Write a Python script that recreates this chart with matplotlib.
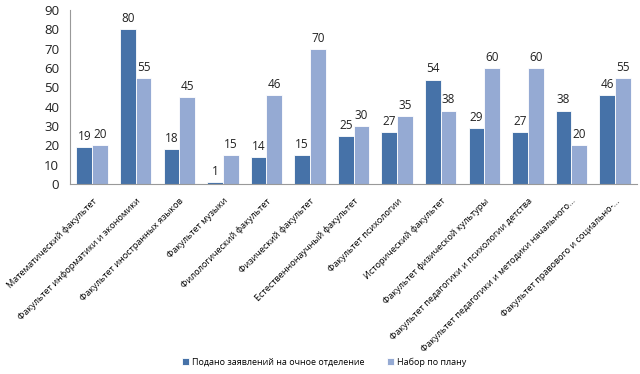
import matplotlib.pyplot as plt
import numpy as np

faculties = ['Математический факультет',
             'Факультет информатики и экономики',
             'Факультет иностранных языков',
             'Факультет музыки',
             'Филологический факультет',
             'Физический факультет',
             'Естественнонаучный факультет',
             'Факультет психологии',
             'Исторический факультет',
             'Факультет физической культуры',
             'Факультет педагогики и психологии детства',
             'Факультет педагогики и методики начального...',
             'Факультет правового и социально-...']
applied = [19, 80, 18, 1, 14, 15, 25, 27, 54, 29, 27, 38, 46]
plan = [20, 55, 45, 15, 46, 70, 30, 35, 38, 60, 60, 20, 55]
series_names = ['Подано заявлений на очное отделение', 'Набор по плану']

plt.rcParams['font.family'] = ['Open Sans', 'DejaVu Sans']

fig = plt.figure(figsize=(6.4, 3.74), dpi=100)
ax = fig.add_axes([0.11, 0.508, 0.885, 0.465])

x = np.arange(len(faculties))
w = 0.36
c1 = '#4672A8'
c2 = '#95AAD3'
b1 = ax.bar(x - w / 2, applied, w, color=c1, edgecolor='white', linewidth=0.6, label=series_names[0])
b2 = ax.bar(x + w / 2, plan, w, color=c2, edgecolor='white', linewidth=0.6, label=series_names[1])
for bars in (b1, b2):
    ax.bar_label(bars, padding=3, fontsize=8.5, color='#222222')

ax.set_xlim(-0.5, len(faculties) - 0.5)
ax.set_ylim(0, 90)
ax.set_yticks(range(0, 91, 10))
ax.tick_params(axis='y', labelsize=9.5, length=0, colors='#222222', pad=8)
ax.set_xticks(x)
ax.set_xticklabels(faculties, rotation=45, ha='right', rotation_mode='anchor', fontsize=6.6)
ax.tick_params(axis='x', length=0, pad=9)
for s in ['top', 'right']:
    ax.spines[s].set_visible(False)
ax.spines['left'].set_color('#999999')
ax.spines['bottom'].set_color('#999999')

fig.legend(handles=[b1, b2], loc='center', bbox_to_anchor=(0.507, 0.032), ncol=2,
           frameon=False, fontsize=6.5, handlelength=0.7, handleheight=0.7,
           handletextpad=0.4, columnspacing=2.5)

fig.savefig('out.png')
